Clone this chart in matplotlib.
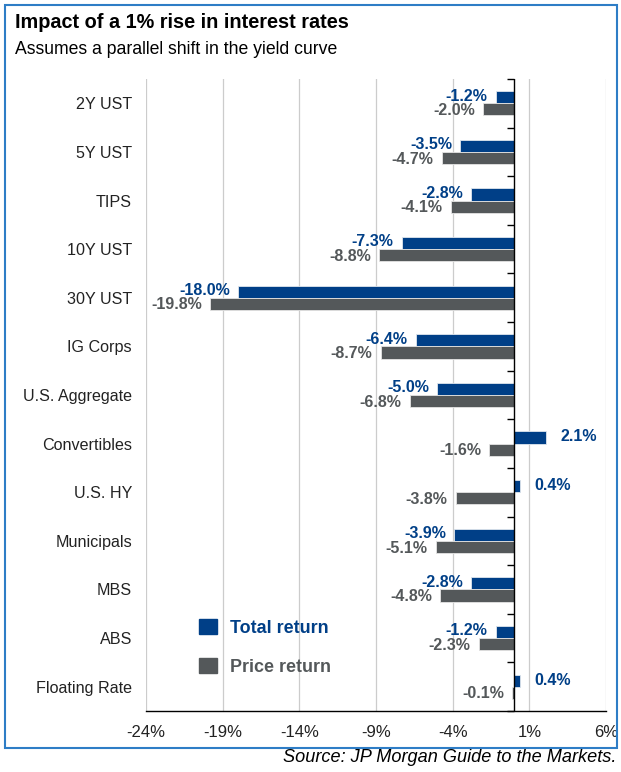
import matplotlib
matplotlib.use("Agg")
import matplotlib.pyplot as plt
from matplotlib.patches import Rectangle, Patch
import numpy as np

plt.rcParams['font.family'] = ['Liberation Sans', 'DejaVu Sans']

categories = ["2Y UST", "5Y UST", "TIPS", "10Y UST", "30Y UST", "IG Corps",
              "U.S. Aggregate", "Convertibles", "U.S. HY", "Municipals", "MBS",
              "ABS", "Floating Rate"]
total_return = [-1.2, -3.5, -2.8, -7.3, -18.0, -6.4, -5.0, 2.1, 0.4, -3.9, -2.8, -1.2, 0.4]
price_return = [-2.0, -4.7, -4.1, -8.8, -19.8, -8.7, -6.8, -1.6, -3.8, -5.1, -4.8, -2.3, -0.1]
xticks = [-24, -19, -14, -9, -4, 1, 6]

BLUE = "#003F87"
GREY = "#54585A"

fig = plt.figure(figsize=(6.21, 7.72), dpi=100)
ax = fig.add_axes([146/621, 1-711/772, 460/621, (711-79)/772])

n = len(categories)
y = np.arange(n)
h = 0.25
ax.barh(y - h/2, total_return, height=h, color=BLUE, edgecolor="#dfe6ee", linewidth=0.6, zorder=3)
ax.barh(y + h/2, price_return, height=h, color=GREY, edgecolor="#e4e4e4", linewidth=0.6, zorder=3)

fs_val = 11.5
for yi, v in zip(y, total_return):
    if v < 0:
        ax.annotate(f"{v:.1f}%", (v, yi - h/2), xytext=(-6, 0.8), textcoords="offset points",
                    ha="right", va="center", color=BLUE, fontsize=fs_val, fontweight="bold", zorder=5)
    else:
        ax.annotate(f"{v:.1f}%", (v, yi - h/2), xytext=(10, 0.4), textcoords="offset points",
                    ha="left", va="center", color=BLUE, fontsize=fs_val, fontweight="bold", zorder=5)
for yi, v in zip(y, price_return):
    ax.annotate(f"{v:.1f}%", (v, yi + h/2), xytext=(-6, -0.8), textcoords="offset points",
                ha="right", va="center", color=GREY, fontsize=fs_val, fontweight="bold", zorder=5)

ax.set_xlim(-24, 6)
ax.set_ylim(n - 0.5, -0.5)
ax.set_xticks(xticks)
ax.set_xticklabels([f"{t}%" for t in xticks], fontsize=12, color="#222222")
ax.tick_params(axis="x", length=0, pad=10)
ax.set_yticks(y)
ax.set_yticklabels(categories, fontsize=11.6, color="#222222")
ax.tick_params(axis="y", length=0, pad=10)
ax.grid(axis="x", color="#cccccc", linewidth=0.9, zorder=0)
for s in ["top", "right", "left"]:
    ax.spines[s].set_visible(False)
ax.spines["bottom"].set_color("black")
ax.spines["bottom"].set_linewidth(1)

ax.axvline(0, color="black", linewidth=1, zorder=4)
sec = ax.secondary_yaxis((0 - (-24)) / 30)
sec.set_yticks(np.arange(n + 1) - 0.5)
sec.set_yticklabels([])
sec.tick_params(axis="y", direction="in", length=5, width=1, color="black")
sec.spines["left"].set_visible(False)
sec.spines["right"].set_visible(False)

handles = [Patch(color=BLUE), Patch(color=GREY)]
leg = ax.legend(handles, ["Total return", "Price return"], loc="lower left",
                bbox_to_anchor=(0.08, 0.03), frameon=False, fontsize=12.9,
                handlelength=1.0, handleheight=0.9, labelspacing=1.2, handletextpad=0.75)
for t, c in zip(leg.get_texts(), [BLUE, GREY]):
    t.set_color(c)
    t.set_fontweight("bold")

fig.text(15/621, 1-22/772, "Impact of a 1% rise in interest rates", fontsize=14.3,
         fontweight="bold", ha="left", va="center", color="black")
fig.text(15/621, 1-49/772, "Assumes a parallel shift in the yield curve", fontsize=12.7,
         ha="left", va="center", color="black")
fig.text(616/621, 1-758/772, "Source: JP Morgan Guide to the Markets.", fontsize=13.1,
         style="italic", ha="right", va="center", color="black")

fig.add_artist(Rectangle((5/621, 1-748/772), 612/621, 743/772, transform=fig.transFigure,
                         fill=False, edgecolor="#2E7DC6", linewidth=1.5))

fig.savefig("out.png", dpi=100)
